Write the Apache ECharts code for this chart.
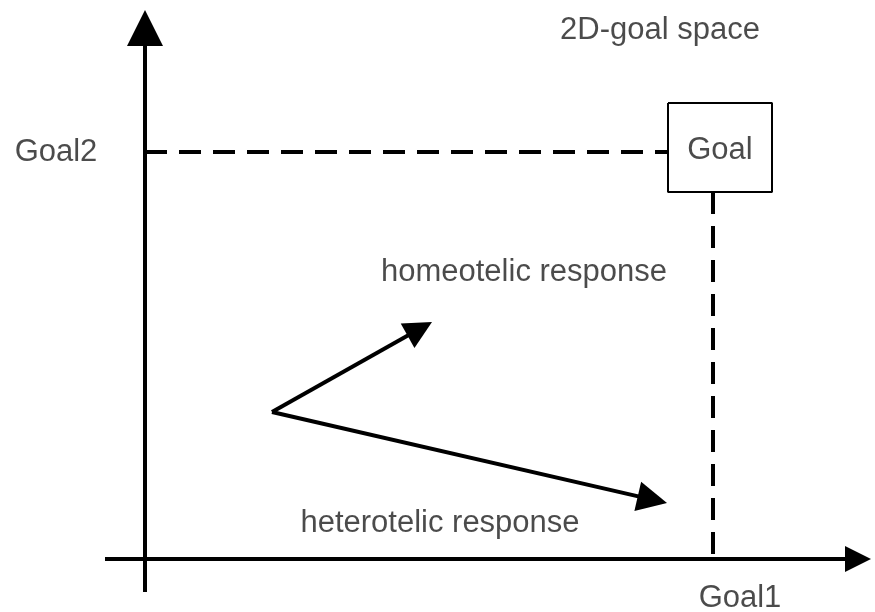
<!DOCTYPE html>
<html>
<head>
<meta charset="utf-8">
<script src="https://cdn.jsdelivr.net/npm/echarts@6/dist/echarts.min.js"></script>
<style>
  html, body { margin: 0; padding: 0; background: #fff; }
  #chart { width: 875px; height: 612px; }
</style>
</head>
<body>
<div id="chart"></div>
<script>
// diagram space, y grows downwards; arrow ends are the tips
const xRange = [0, 875];
const yRange = [0, 612];

const axisGoal2 = [[145, 592], [145, 10]];
const axisGoal1 = [[105, 559], [871, 559]];
const homeotelic = [[272, 412], [432, 322]];
const heterotelic = [[272, 412], [667, 503]];
const dashGoal2 = [[145, 152], [668, 152]];
const dashGoal1 = [[713, 192], [713, 559]];
const goalBox = [[668, 103], [772, 103], [772, 192], [668, 192], [668, 103]];

const labelNames = ['2D-goal space', 'Goal2', 'Goal', 'homeotelic response', 'heterotelic response', 'Goal1'];
const labelX = [660, 56, 720, 524, 440, 740];
const labelY = [30, 152, 150, 272, 523, 598];

const INK = '#000';
const FONT = 'Liberation Sans, Arial, sans-serif';

const chart = echarts.init(document.getElementById('chart'), null, { renderer: 'canvas' });

// the triangle symbol is centred on the end point, so pull the end back by half its length
function pullBack(coords, d) {
  const [a, b] = coords;
  const dx = b[0] - a[0], dy = b[1] - a[1];
  const len = Math.hypot(dx, dy);
  return [a, [b[0] - dx / len * d, b[1] - dy / len * d]];
}

function arrowSeries(name, coords, size) {
  return {
    name,
    type: 'lines',
    coordinateSystem: 'cartesian2d',
    symbol: ['none', 'triangle'],
    symbolSize: size,
    lineStyle: { color: INK, width: 4, opacity: 1 },
    data: [{ coords: pullBack(coords, size[1] / 2) }],
    silent: true,
    z: 3,
  };
}

function pathSeries(name, points, type) {
  return {
    name,
    type: 'line',
    data: points,
    symbol: 'none',
    lineStyle: { color: INK, width: type === 'solid' ? 2 : 4, type },
    silent: true,
    z: 2,
  };
}

chart.setOption({
  backgroundColor: '#fff',
  animation: false,
  grid: { left: 0, right: 0, top: 0, bottom: 0 },
  xAxis: { type: 'value', min: xRange[0], max: xRange[1], show: false },
  yAxis: { type: 'value', min: yRange[0], max: yRange[1], inverse: true, show: false },
  series: [
    arrowSeries('Goal2 axis', axisGoal2, [26, 36]),
    arrowSeries('Goal1 axis', axisGoal1, [26, 26]),
    arrowSeries('homeotelic', homeotelic, [22, 28]),
    arrowSeries('heterotelic', heterotelic, [22, 30]),
    pathSeries('dash Goal2', dashGoal2, [22, 12]),
    pathSeries('dash Goal1', dashGoal1, [22, 12]),
    pathSeries('Goal box', goalBox, 'solid'),
    {
      name: 'labels',
      type: 'scatter',
      symbolSize: 0,
      data: labelNames.map((n, i) => ({ name: n, value: [labelX[i], labelY[i]] })),
      label: {
        show: true,
        position: 'inside',
        formatter: (p) => p.name,
        color: '#1e1e1e',
        fontFamily: FONT,
        fontSize: 31,
      },
      silent: true,
      z: 4,
    },
  ],
});
</script>
</body>
</html>
